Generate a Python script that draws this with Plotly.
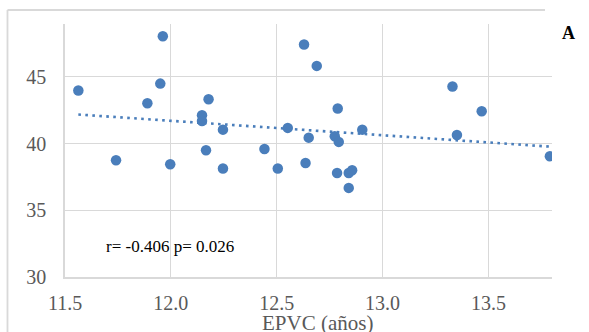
import numpy as np
import plotly.graph_objects as go

# Data
epvc = [11.563, 11.741, 11.889, 11.950, 11.962, 11.997, 12.147, 12.147, 12.166, 12.178,
        12.246, 12.246, 12.442, 12.505, 12.552, 12.629, 12.636, 12.651, 12.689, 12.774,
        12.788, 12.793, 12.785, 12.840, 12.856, 12.840, 12.904, 13.330, 13.351, 13.468,
        13.790]
values = [43.98, 38.75, 43.03, 44.50, 48.05, 38.45, 42.13, 41.70, 39.50, 43.33,
          41.05, 38.13, 39.60, 38.13, 41.18, 47.43, 38.55, 40.45, 45.83, 40.55,
          42.63, 40.13, 37.80, 37.80, 38.00, 36.68, 41.05, 44.28, 40.65, 42.43,
          39.05]
x_ticks = [11.5, 12.0, 12.5, 13.0, 13.5]
y_ticks = [30, 35, 40, 45]
stats_label = "r= -0.406 p= 0.026"
x_title = "EPVC (años)"
panel_label = "A"

blue = "#4a7ebb"
grid = "#d9d9d9"
tick_color = "#595959"
serif = "Liberation Serif, Times New Roman, serif"

# linear trend line from the data
slope, intercept = np.polyfit(epvc, values, 1)
tx = [min(epvc), max(epvc)]
ty = [slope * v + intercept for v in tx]

fig = go.Figure()
fig.add_trace(go.Scatter(
    x=tx, y=ty, mode="lines",
    line=dict(color=blue, width=2.6, dash="2.6px,4.4px"),
    hoverinfo="skip", showlegend=False,
))
fig.add_trace(go.Scatter(
    x=epvc, y=values, mode="markers",
    marker=dict(color=blue, size=10.5, line=dict(width=0)),
    showlegend=False,
))

fig.update_layout(
    width=589, height=332,
    margin=dict(l=65, r=37, t=24, b=55),
    paper_bgcolor="white", plot_bgcolor="white",
    font=dict(family=serif, color=tick_color),
    xaxis=dict(
        range=[11.5, 13.8], tickvals=x_ticks, tickformat=".1f",
        showgrid=True, gridcolor=grid, gridwidth=1.3,
        showline=True, linecolor=grid, linewidth=1.5,
        ticks="", ticklabelstandoff=7,
        tickfont=dict(family=serif, size=20, color=tick_color),
        zeroline=False,
    ),
    yaxis=dict(
        range=[30, 48.97], tickvals=y_ticks,
        showgrid=True, gridcolor=grid, gridwidth=1.3,
        showline=True, linecolor=grid, linewidth=1.5,
        ticks="", ticklabelstandoff=13,
        tickfont=dict(family=serif, size=20, color=tick_color),
        zeroline=False,
    ),
    shapes=[
        dict(type="line", xref="paper", yref="paper", x0=-0.1181, x1=0.9856,
             y0=1.0553, y1=1.0553, line=dict(color=grid, width=1.8)),
        dict(type="line", xref="paper", yref="paper", x0=-0.1181, x1=-0.1181,
             y0=1.0553, y1=-0.25, line=dict(color=grid, width=1.8)),
    ],
    annotations=[
        dict(text=x_title, xref="paper", yref="paper", x=0.518, y=-0.182,
             xanchor="center", yanchor="middle", showarrow=False,
             font=dict(family=serif, size=21, color=tick_color)),
        dict(text=stats_label, xref="paper", yref="paper", x=0.2146, y=0.1225,
             xanchor="center", yanchor="middle", showarrow=False,
             font=dict(family=serif, size=17, color="black")),
        dict(text="<b>" + panel_label + "</b>", xref="paper", yref="paper",
             x=1.0349, y=0.9656, xanchor="center", yanchor="middle", showarrow=False,
             font=dict(family=serif, size=18, color="black")),
    ],
)

fig.write_html(
    "out.html",
    config={"displayModeBar": False},
    post_script="document.body.style.margin='0';document.body.style.overflow='hidden';",
)
